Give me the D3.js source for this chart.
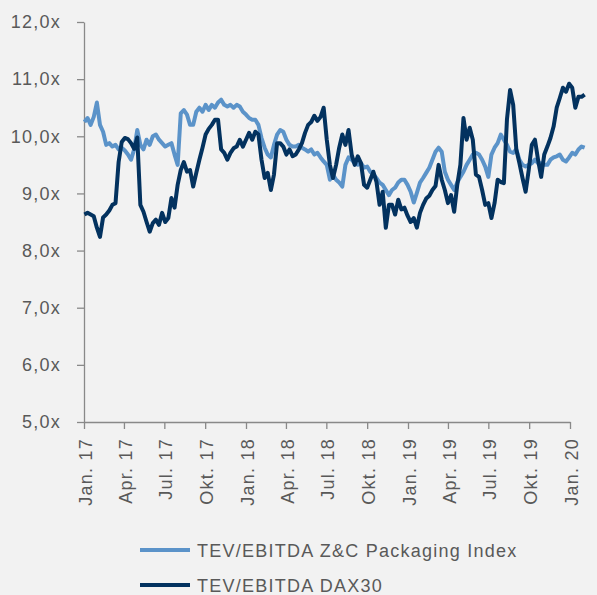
<!DOCTYPE html>
<html>
<head>
<meta charset="utf-8">
<script src="https://cdn.jsdelivr.net/npm/d3@7"></script>
<style>
  body { margin: 0; background: #f2f2f2; }
  svg { display: block; }
  text { font-family: "Liberation Sans", Arial, sans-serif; fill: #595959; letter-spacing: 1.25px; }
</style>
</head>
<body>
<svg id="chart"></svg>
<script>
/* global d3 */
// weekly observations, first Monday of 2017 onwards
const weeks = d3.timeMonday.range(new Date(2017, 0, 2), new Date(2020, 1, 4))

const packaging = [10.25, 10.32, 10.20, 10.34, 10.59, 10.20, 10.08, 9.85, 9.88, 9.82,
  9.85, 9.77, 9.80, 9.75, 9.68, 9.59, 9.77, 10.11, 9.85, 9.77,
  9.94, 9.85, 10.00, 10.03, 9.94, 9.88, 9.82, 9.85, 9.88, 9.68,
  9.50, 10.40, 10.46, 10.38, 10.20, 10.20, 10.43, 10.50, 10.43, 10.55,
  10.46, 10.55, 10.50, 10.59, 10.64, 10.55, 10.52, 10.55, 10.50, 10.55,
  10.52, 10.43, 10.38, 10.32, 10.29, 10.29, 10.20, 9.97, 9.80, 9.68,
  9.63, 9.85, 10.03, 10.11, 10.08, 9.94, 9.85, 9.82, 9.82, 9.85,
  9.80, 9.77, 9.73, 9.77, 9.68, 9.71, 9.63, 9.56, 9.50, 9.24,
  9.33, 9.24, 9.19, 9.12, 9.50, 9.63, 9.59, 9.53, 9.50, 9.53,
  9.45, 9.47, 9.38, 9.33, 9.27, 9.19, 9.15, 9.06, 8.97, 9.06,
  9.10, 9.19, 9.24, 9.24, 9.15, 9.03, 8.84, 9.01, 9.19, 9.27,
  9.36, 9.45, 9.59, 9.73, 9.80, 9.73, 9.38, 9.24, 9.15, 9.06,
  9.19, 9.29, 9.38, 9.50, 9.59, 9.68, 9.71, 9.68, 9.59, 9.47,
  9.29, 9.68, 9.80, 9.88, 10.03, 9.94, 9.85, 9.73, 9.71, 9.77,
  9.59, 9.50, 9.47, 9.50, 9.53, 9.59, 9.53, 9.53, 9.50, 9.50,
  9.59, 9.63, 9.65, 9.68, 9.59, 9.56, 9.63, 9.71, 9.68, 9.77,
  9.82, 9.80]

const dax = [8.63, 8.66, 8.63, 8.60, 8.40, 8.24, 8.58, 8.63, 8.70, 8.80,
  8.83, 9.55, 9.90, 9.97, 9.95, 9.88, 9.78, 9.98, 8.80, 8.68,
  8.50, 8.33, 8.48, 8.54, 8.45, 8.66, 8.50, 8.57, 8.92, 8.75,
  9.15, 9.41, 9.55, 9.38, 9.41, 9.12, 9.36, 9.59, 9.80, 10.03,
  10.13, 10.20, 10.29, 10.29, 9.77, 9.71, 9.59, 9.71, 9.79, 9.82,
  9.94, 9.82, 9.94, 10.06, 9.94, 10.08, 10.03, 9.59, 9.27, 9.36,
  9.06, 9.33, 9.88, 9.88, 9.82, 9.68, 9.77, 9.65, 9.68, 9.77,
  9.88, 10.06, 10.20, 10.25, 10.36, 10.27, 10.34, 10.50, 9.94, 9.50,
  9.27, 9.50, 9.80, 10.03, 9.85, 10.11, 9.68, 9.50, 9.65, 9.53,
  9.15, 9.10, 9.24, 9.38, 9.20, 8.80, 9.03, 8.40, 8.80, 8.80,
  8.63, 8.89, 8.72, 8.75, 8.61, 8.50, 8.57, 8.40, 8.66, 8.80,
  8.91, 8.96, 9.06, 9.13, 9.50, 9.24, 9.06, 8.83, 8.97, 8.68,
  9.15, 9.50, 10.32, 9.94, 10.15, 9.94, 9.33, 9.29, 9.06, 8.80,
  8.83, 8.57, 8.83, 9.24, 9.20, 9.18, 10.30, 10.81, 10.55, 9.77,
  9.53, 9.27, 9.03, 9.41, 9.85, 9.94, 9.59, 9.29, 9.68, 9.82,
  9.97, 10.17, 10.50, 10.67, 10.85, 10.78, 10.92, 10.85, 10.50, 10.69,
  10.69, 10.73]

const seriesNames = ['TEV/EBITDA Z&C Packaging Index', 'TEV/EBITDA DAX30']
const seriesColors = ['#5b93c9', '#03325f']
const yTicks = [5, 6, 7, 8, 9, 10, 11, 12]
const quarterNames = ['Jan.', 'Apr.', 'Jul.', 'Okt.']

const width = 597
const height = 595
const margin = { top: 22, left: 84, right: 27, bottom: 173 }

const svg = d3.select('#chart')
  .attr('width', width)
  .attr('height', height)

/** Scales */
const x = d3.scaleTime()
  .domain([new Date(2017, 0, 1), new Date(2020, 0, 1)])
  .range([margin.left, width - margin.right])

const y = d3.scaleLinear()
  .domain([5, 12])
  .range([height - margin.bottom, margin.top])

/** Axes */
const yAxis = d3.axisLeft(y)
  .tickValues(yTicks)
  .tickSize(7)
  .tickSizeOuter(0)
  .tickPadding(16)
  .tickFormat(d => d3.format('.1f')(d).replace('.', ',') + 'x')

const xAxis = d3.axisBottom(x)
  .ticks(d3.timeMonth.every(3))
  .tickSize(7)
  .tickSizeOuter(0)
  .tickFormat(d => quarterNames[d.getMonth() / 3] + ' ' + d3.timeFormat('%y')(d))

const gy = svg.append('g')
  .attr('transform', `translate(${margin.left},0)`)
  .call(yAxis)
gy.selectAll('text').style('font-size', '18px')

const gx = svg.append('g')
  .attr('transform', `translate(0,${height - margin.bottom})`)
  .call(xAxis)
gx.selectAll('text')
  .style('font-size', '18px')
  .attr('transform', 'rotate(-90)')
  .attr('text-anchor', 'end')
  .attr('x', -16)
  .attr('y', 0)
  .attr('dy', '0.42em')

svg.selectAll('.domain, .tick line')
  .attr('stroke', '#898989')
  .attr('stroke-width', 1.3)

/** Lines */
const line = d3.line()
  .x((d, i) => x(weeks[i]))
  .y(d => y(d))

svg.selectAll('path.series')
  .data([packaging, dax])
  .enter()
  .append('path')
  .attr('class', 'series')
  .attr('d', line)
  .attr('fill', 'none')
  .attr('stroke', (d, i) => seriesColors[i])
  .attr('stroke-width', 4)
  .attr('stroke-linejoin', 'round')

/** Legend */
const legend = svg.selectAll('g.legend')
  .data(seriesNames)
  .enter()
  .append('g')
  .attr('class', 'legend')
  .attr('transform', (d, i) => `translate(140,${550 + i * 35})`)

legend.append('line')
  .attr('x1', 0)
  .attr('x2', 50)
  .attr('stroke', (d, i) => seriesColors[i])
  .attr('stroke-width', 4)

legend.append('text')
  .attr('x', 57)
  .attr('dy', '0.4em')
  .style('font-size', '18px')
  .text(d => d)
</script>
</body>
</html>
